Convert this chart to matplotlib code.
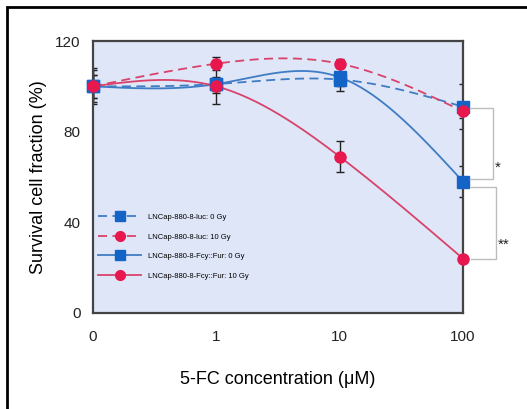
import numpy as np
import matplotlib
matplotlib.use('Agg')
import matplotlib.pyplot as plt
from matplotlib.lines import Line2D
from matplotlib.patches import Rectangle

plt.rcParams['font.family'] = ['Liberation Sans', 'DejaVu Sans']

# data
conc_labels = ['0', '1', '10', '100']
labels = ['LNCap-880-8-luc: 0 Gy', 'LNCap-880-8-luc: 10 Gy',
          'LNCap-880-8-Fcy::Fur: 0 Gy', 'LNCap-880-8-Fcy::Fur: 10 Gy']
luc_0 = [100, 101, 103, 91]
luc_10 = [100, 110, 110, 89]
fur_0 = [100, 101, 104, 58]
fur_10 = [100, 100, 69, 24]
luc_0_err = [5, 3, 3, 10]
luc_10_err = [5, 3, 2, 3]
fur_0_err = [8, 9, 6, 7]
fur_10_err = [7, 3, 7, 1]


def natural_spline(y, n=200):
    """Smooth curve through the points (natural cubic spline)."""
    y = np.asarray(y, float)
    k = len(y)
    A = np.zeros((k, k))
    b = np.zeros(k)
    A[0, 0] = A[-1, -1] = 1
    for i in range(1, k - 1):
        A[i, i - 1], A[i, i], A[i, i + 1] = 1, 4, 1
        b[i] = 6 * (y[i + 1] - 2 * y[i] + y[i - 1])
    m = np.linalg.solve(A, b)
    xs = np.linspace(0, k - 1, n)
    ys = np.empty(n)
    for j, t in enumerate(xs):
        i = min(int(t), k - 2)
        u = t - i
        ys[j] = (m[i] * (1 - u)**3 / 6 + m[i + 1] * u**3 / 6
                 + (y[i] - m[i] / 6) * (1 - u) + (y[i + 1] - m[i + 1] / 6) * u)
    return xs, ys


blue_line = '#3f7cc4'
blue_mark = '#1464c8'
red_line = '#d8436c'
red_mark = '#e8174e'

series = [
    (luc_0, luc_0_err, blue_line, blue_mark, 's', (0, (5, 3))),
    (luc_10, luc_10_err, red_line, red_mark, 'o', (0, (5, 3))),
    (fur_0, fur_0_err, blue_line, blue_mark, 's', '-'),
    (fur_10, fur_10_err, red_line, red_mark, 'o', '-'),
]

fig = plt.figure(figsize=(5.27, 4.09), dpi=100)
ax = fig.add_axes([93 / 527, 1 - 313 / 409, 370 / 527, 272 / 409])
ax.set_facecolor('#dfe6f8')

x = np.arange(len(conc_labels))
for vals, err, lc, mc, mk, ls in series:
    ax.errorbar(x, vals, yerr=err, fmt='none', ecolor='#222222',
                elinewidth=1.0, capsize=3, capthick=1.0, zorder=2)
for vals, err, lc, mc, mk, ls in series:
    xs, ys = natural_spline(vals)
    ax.plot(xs, ys, color=lc, linestyle=ls, linewidth=1.3, zorder=3)
for vals, err, lc, mc, mk, ls in series:
    ax.plot(x, vals, linestyle='none', marker=mk, markersize=8,
            color=mc, markeredgecolor=mc, zorder=4, clip_on=False)

ax.set_xlim(0, 3)
ax.set_ylim(0, 120)
ax.set_xticks(x)
ax.set_xticklabels(conc_labels)
ax.set_yticks([0, 40, 80, 120])
ax.tick_params(length=0, labelsize=11, colors='#222222')
ax.tick_params(axis='x', pad=12)
ax.tick_params(axis='y', pad=9)
for s in ax.spines.values():
    s.set_color('#444444')
    s.set_linewidth(1.6)

ax.set_xlabel('5-FC concentration (\u03bcM)', fontsize=13, labelpad=20)
ax.set_ylabel('Survival cell fraction (%)', fontsize=13, labelpad=6)

handles = []
for vals, err, lc, mc, mk, ls in series:
    handles.append(Line2D([], [], color=lc, linestyle=ls, linewidth=1.3,
                          marker=mk, markersize=7, markerfacecolor=mc,
                          markeredgecolor=mc))
ax.legend(handles, labels, loc='upper left', bbox_to_anchor=(0.0, 0.385),
          frameon=False, fontsize=5.5, handlelength=5.6, labelspacing=1.6,
          borderaxespad=0.3, handletextpad=0.9)

# significance brackets
def px(xp, yp):
    return xp / 527, 1 - yp / 409

for (x0, x1, y0, y1, star, ty) in [(470, 493, 108, 179, '*', 168),
                                    (471, 496, 187, 259, '**', 245)]:
    pts = [px(x0, y0), px(x1, y0), px(x1, y1), px(x0, y1)]
    fig.add_artist(Line2D([p[0] for p in pts], [p[1] for p in pts],
                          color='#bdbdbd', linewidth=1.0,
                          transform=fig.transFigure))
    tx, tyf = px(x1 + 2, ty)
    fig.text(tx, tyf, star, fontsize=11, ha='left', va='center', color='#222222')

# outer frame
fig.add_artist(Rectangle(px(7, 420), 1.0, (420 - 7) / 409,
                         transform=fig.transFigure, fill=False,
                         edgecolor='black', linewidth=2))

fig.savefig('out.png', dpi=100)
